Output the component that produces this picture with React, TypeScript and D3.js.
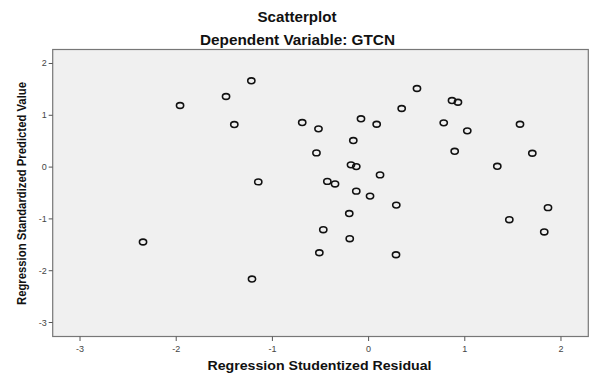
import React from "react";
import * as d3 from "d3";

const residual = [
  -1.219, -1.482, -1.96, -1.396, -0.69, -0.521, -0.079, 0.084, -0.159, -0.542,
  -0.183, -0.128, 0.119, -1.147, -0.429, -0.349, -0.128, 0.015, 0.288, -0.201,
  -0.471, -0.196, -2.345, -0.512, 0.285, -1.212, 0.344, 0.503, 0.867, 0.929,
  0.781, 1.026, 0.895, 1.574, 1.338, 1.702, 1.463, 1.865, 1.826,
];
const predicted = [
  1.666, 1.363, 1.189, 0.821, 0.86, 0.738, 0.932, 0.827, 0.512, 0.274,
  0.043, 0.01, -0.151, -0.286, -0.276, -0.325, -0.464, -0.56, -0.734, -0.897,
  -1.208, -1.382, -1.446, -1.653, -1.692, -2.161, 1.131, 1.517, 1.285, 1.252,
  0.854, 0.7, 0.305, 0.827, 0.015, 0.267, -1.015, -0.783, -1.252,
];
const xTicks = [-3, -2, -1, 0, 1, 2];
const yTicks = [2, 1, 0, -1, -2, -3];

const title = "Scatterplot";
const subtitle = "Dependent Variable: GTCN";
const xLabel = "Regression Studentized Residual";
const yLabel = "Regression Standardized Predicted Value";

export default function App() {
  const W = 595, H = 382;
  const left = 52.7, right = 588.3, top = 49.5, bottom = 336.5;
  const x = d3.scaleLinear().domain([-3.284, 2.284]).range([left, right]);
  const y = d3.scaleLinear().domain([-3.27, 2.27]).range([bottom, top]);
  const font = "'Liberation Sans', Arial, sans-serif";
  return (
    <svg width={W} height={H} style={{ position: "absolute", left: 0, top: 0, background: "#fff" }} fontFamily={font}>
      <text x={297} y={21.5} textAnchor="middle" fontSize={14} fontWeight="bold" fill="#111" textLength={79} lengthAdjust="spacingAndGlyphs">{title}</text>
      <text x={297.5} y={45} textAnchor="middle" fontSize={14} fontWeight="bold" fill="#111" textLength={195} lengthAdjust="spacingAndGlyphs">{subtitle}</text>
      <rect x={left} y={top} width={right - left} height={bottom - top} fill="#f0f0f0" stroke="#777" strokeWidth={1.2} />
      {yTicks.map((t) => (
        <g key={"y" + t}>
          <line x1={left - 4} x2={left} y1={y(t)} y2={y(t)} stroke="#555" strokeWidth={1} />
          <text x={left - 6} y={y(t) + 3} textAnchor="end" fontSize={9} fill="#444">{t}</text>
        </g>
      ))}
      {xTicks.map((t) => (
        <g key={"x" + t}>
          <line x1={x(t)} x2={x(t)} y1={bottom} y2={bottom + 4.5} stroke="#555" strokeWidth={1} />
          <text x={x(t)} y={351.5} textAnchor="middle" fontSize={9} fill="#444">{t}</text>
        </g>
      ))}
      <text x={319.5} y={369.5} textAnchor="middle" fontSize={12.5} fontWeight="bold" fill="#111" textLength={224} lengthAdjust="spacingAndGlyphs">{xLabel}</text>
      <text transform={`translate(26,193.5) rotate(-90)`} textAnchor="middle" fontSize={13} fontWeight="bold" fill="#111" textLength={223} lengthAdjust="spacingAndGlyphs">{yLabel}</text>
      {residual.map((r, i) => (
        <ellipse key={i} cx={x(r)} cy={y(predicted[i])} rx={3.6} ry={2.9} fill="none" stroke="#111" strokeWidth={1.6} />
      ))}
    </svg>
  );
}
